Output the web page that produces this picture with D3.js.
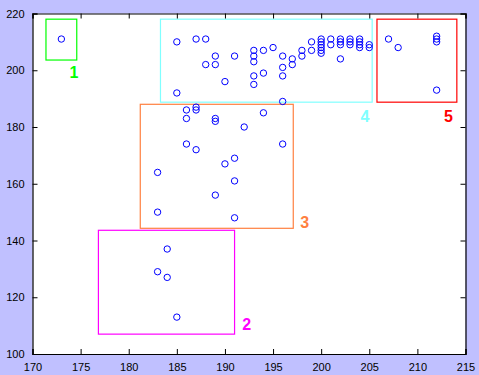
<!DOCTYPE html>
<html><head><meta charset="utf-8">
<script src="https://cdn.jsdelivr.net/npm/d3@7"></script>
<style>
html,body{margin:0;padding:0;background:#c0c0ff;}
svg{display:block;}
text{font-family:"Liberation Sans",Arial,sans-serif;}
</style></head>
<body>
<script>
// Scatter data (x, y)
const xValues = [173,
 185,187,188,189,189,188,191,190,185,193,193,193,193,193,194,194,195,196,196,196,196,197,197,198,198,199,199,
 200,200,200,200,200,200,201,201,202,202,202,202,203,203,203,204,204,204,204,205,205,
 207,208,212,212,212,212,
 186,186,187,187,189,189,194,192,186,187,191,190,183,191,189,183,191,196,
 184,183,184,185];
const yValues = [211,
 210,211,211,205,202,202,205,196,192,207,205,203,198,195,207,199,208,205,201,198,189,204,202,207,205,210,207,
 211,210,209,208,207,206,211,209,211,210,209,204,211,210,209,211,210,209,208,209,208,
 211,208,212,211,210,193,
 186,183,187,186,183,182,185,180,174,172,169,167,164,161,156,150,148,174,
 137,129,127,113];
// Cluster boxes: [x0, x1, y0, y1]
const clusterNames = ["1","2","3","4","5"];
const clusterBoxes = [[171.4,174.6,203.6,218],[176.85,191,107,143.6],[181.2,197.1,144.3,188],[183.3,205.3,188.75,218],[205.8,214.1,188.75,218]];
const clusterColors = ["#00ff00","#ff00ff","#ff8040","#80ffff","#ff0000"];
const labelPos = [[174.3,199.1],[192.25,110.3],[198.3,146.5],[204.55,183.7],[213.24,183.7]];
const xTicks = [170,175,180,185,190,195,200,205,210,215];
const yTicks = [100,120,140,160,180,200,220];

const W=479,H=375;
const svg=d3.select("body").append("svg").attr("width",W).attr("height",H);
svg.append("rect").attr("width",W).attr("height",H).attr("fill","#c0c0ff");
const x=d3.scaleLinear().domain([170,215]).range([32.5,465.5]);
const y=d3.scaleLinear().domain([100,220]).range([354,13.5]);

svg.append("rect").attr("x",x(170)).attr("y",y(220)).attr("width",x(215)-x(170)).attr("height",y(100)-y(220)).attr("fill","#fff");

// boxes
clusterBoxes.forEach((b,i)=>{
  svg.append("rect").attr("x",x(b[0])).attr("y",y(b[3])).attr("width",x(b[1])-x(b[0])).attr("height",y(b[2])-y(b[3]))
    .attr("fill","none").attr("stroke",clusterColors[i]).attr("stroke-width",1.2);
  svg.append("text").attr("x",x(labelPos[i][0])).attr("y",y(labelPos[i][1])).attr("text-anchor","middle").attr("dominant-baseline","central")
    .attr("font-size",16).attr("font-weight","bold").attr("fill",clusterColors[i]).text(clusterNames[i]);
});

// points
svg.append("g").selectAll("circle").data(xValues.map((v,i)=>[v,yValues[i]])).join("circle")
  .attr("cx",d=>x(d[0])).attr("cy",d=>y(d[1])).attr("r",3.2).attr("fill","none").attr("stroke","#0000ff").attr("stroke-width",1);

// axes
const ax=svg.append("g").attr("transform",`translate(0,${y(100)})`).call(d3.axisBottom(x).tickValues(xTicks).tickSize(-5).tickPadding(9));
const at=svg.append("g").attr("transform",`translate(0,${y(220)})`).call(d3.axisTop(x).tickValues(xTicks).tickSize(-5).tickFormat(""));
const ay=svg.append("g").attr("transform",`translate(${x(170)},0)`).call(d3.axisLeft(y).tickValues(yTicks).tickSize(-5).tickPadding(8));
const ar=svg.append("g").attr("transform",`translate(${x(215)},0)`).call(d3.axisRight(y).tickValues(yTicks).tickSize(-5).tickFormat(""));
[ax,at,ay,ar].forEach(g=>{
  g.selectAll(".domain").attr("stroke","#000").attr("stroke-width",1.2);
  g.selectAll(".tick line").attr("stroke","#000");
  g.selectAll("text").attr("font-size",11).attr("fill","#000").attr("font-family","Liberation Sans, Arial, sans-serif");
});
</script>
</body></html>
